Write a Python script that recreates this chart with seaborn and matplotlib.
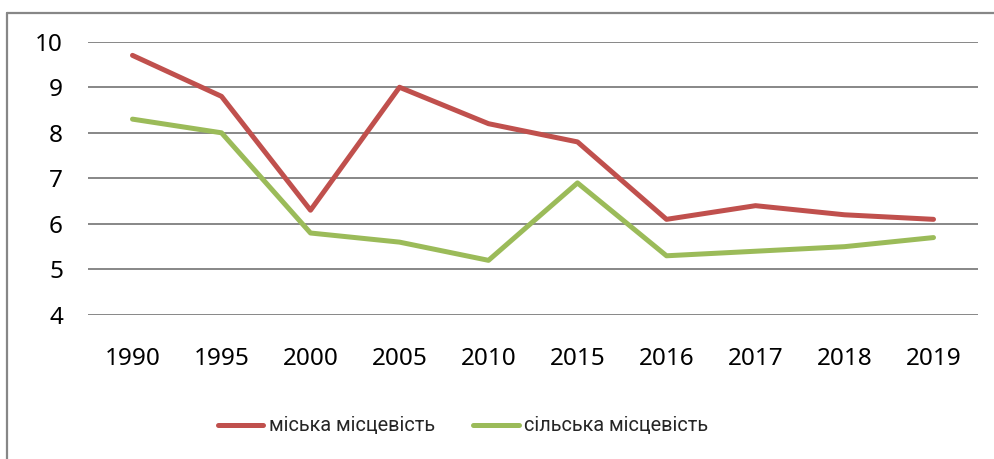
import matplotlib
matplotlib.use("Agg")
import matplotlib.pyplot as plt
import seaborn as sns
import pandas as pd
from matplotlib.lines import Line2D

years = ["1990", "1995", "2000", "2005", "2010", "2015", "2016", "2017", "2018", "2019"]
urban = [9.7, 8.8, 6.3, 9.0, 8.2, 7.8, 6.1, 6.4, 6.2, 6.1]
rural = [8.3, 8.0, 5.8, 5.6, 5.2, 6.9, 5.3, 5.4, 5.5, 5.7]
series_names = ["міська місцевість", "сільська місцевість"]
y_ticks = [4, 5, 6, 7, 8, 9, 10]

df = pd.DataFrame({
    "year": years * 2,
    "value": urban + rural,
    "series": [series_names[0]] * len(years) + [series_names[1]] * len(years),
})

sns.set_style("white")
plt.rcParams["font.family"] = ["Noto Sans", "DejaVu Sans"]

fig = plt.figure(figsize=(9.95, 4.59), dpi=100)
ax = fig.add_axes([88 / 995, 1 - 315 / 459, 890 / 995, (315 - 41.7) / 459])

palette = {series_names[0]: "#C0504D", series_names[1]: "#9BBB59"}
sns.lineplot(data=df, x="year", y="value", hue="series", palette=palette,
             linewidth=3.6, ax=ax, sort=False, legend=False)

ax.set_xlim(-0.5, len(years) - 0.5)
ax.set_ylim(4, 10)
ax.set_yticks(y_ticks)
ax.set_yticklabels([str(t) for t in y_ticks])
ax.set_xticks(range(len(years)))
ax.set_xticklabels(years)
ax.set_xlabel("")
ax.set_ylabel("")
for s in ax.spines.values():
    s.set_visible(False)
ax.grid(False)
for t in y_ticks:
    ax.axhline(t, color="#878787", linewidth=1.4, zorder=0)
ax.tick_params(axis="y", length=0, pad=18, labelsize=17.5, colors="black")
ax.tick_params(axis="x", length=0, pad=23, labelsize=17.5, colors="black")

handles = [Line2D([], [], color=palette[n], linewidth=3.6) for n in series_names]
fig.legend(handles, series_names, loc="center", bbox_to_anchor=(463 / 995, 1 - 426 / 459),
           ncol=2, frameon=False, handlelength=2.3, handletextpad=0.28,
           columnspacing=1.9, prop={"family": ["Roboto", "DejaVu Sans"], "size": 14.3})

# outer chart border (top and left visible)
fig.add_artist(Line2D([7 / 995, 1.0], [1 - 13 / 459, 1 - 13 / 459], transform=fig.transFigure,
                      color="#878787", linewidth=1.6))
fig.add_artist(Line2D([7 / 995, 7 / 995], [0.0, 1 - 13 / 459], transform=fig.transFigure,
                      color="#878787", linewidth=1.6))

fig.savefig("out.png", dpi=100)
